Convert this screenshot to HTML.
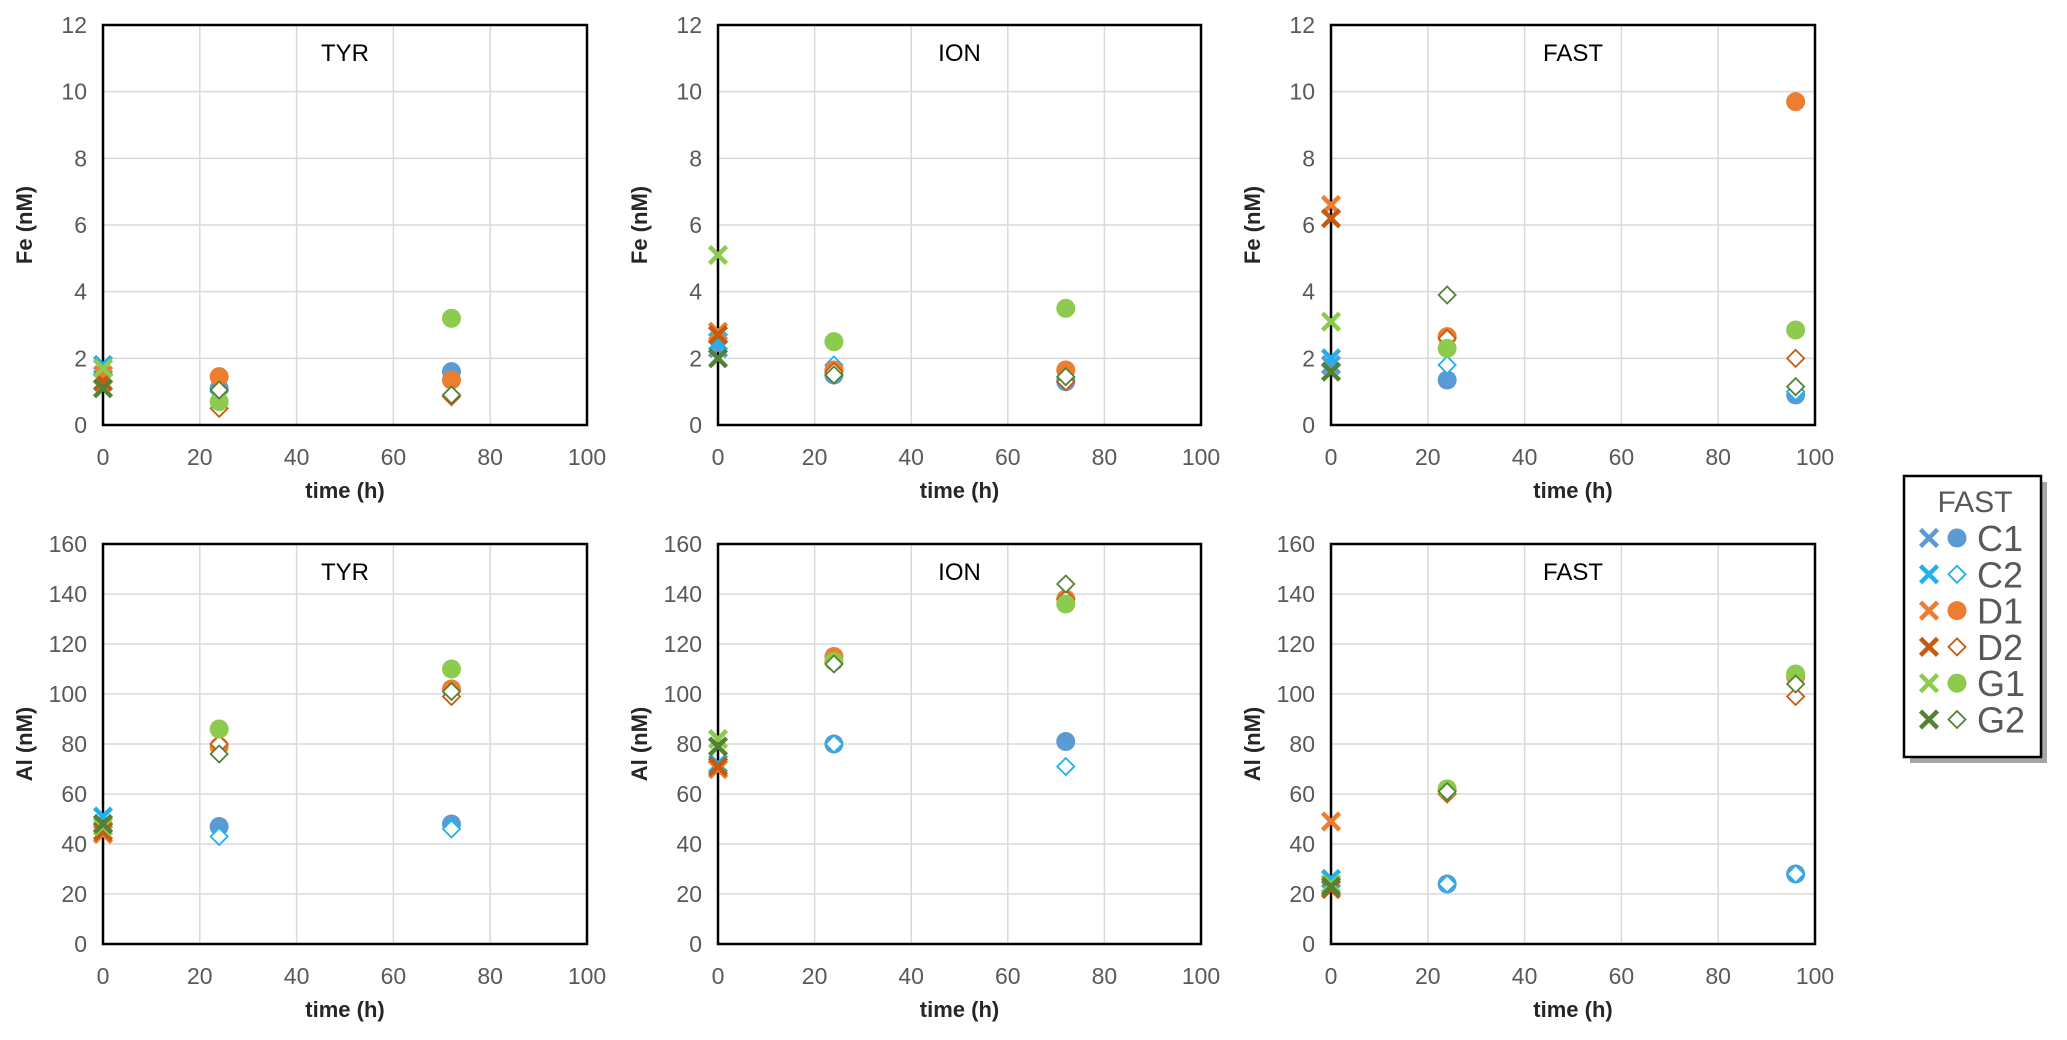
<!DOCTYPE html>
<html><head><meta charset="utf-8">
<style>
html,body{margin:0;padding:0;background:#fff;}
svg{display:block;font-family:"Liberation Sans",Arial,sans-serif;}
</style></head>
<body>
<svg id="fig" width="2067" height="1040" viewBox="0 0 2067 1040" xmlns="http://www.w3.org/2000/svg"></svg>
<script>
const seriesNames = ['C1','C2','D1','D2','G1','G2'];
const seriesColors = ['#5B9BD5','#1FB0EE','#ED7D31','#C55A11','#8CCB4E','#548235'];
const laterShape = ['circle','diamond','circle','diamond','circle','diamond'];
const panelTitles = ['TYR','ION','FAST','TYR','ION','FAST'];
const xTicks = [0,20,40,60,80,100];
const feTicks = [0,2,4,6,8,10,12];
const alTicks = [0,20,40,60,80,100,120,140,160];
const timesTYR = [0,24,72];
const timesION = [0,24,72];
const timesFAST = [0,24,96];
// values: [series][timeIndex]
const feTYR = [[1.3,1.1,1.6],[1.8,1.0,0.9],[1.5,1.45,1.35],[1.3,0.5,0.85],[1.7,0.7,3.2],[1.1,1.05,0.9]];
const feION = [[2.3,1.5,1.3],[2.5,1.8,1.4],[2.8,1.65,1.65],[2.7,1.6,1.3],[5.1,2.5,3.5],[2.0,1.5,1.45]];
const feFAST = [[1.8,1.35,0.9],[2.0,1.8,1.0],[6.6,2.65,9.7],[6.2,2.6,2.0],[3.1,2.3,2.85],[1.6,3.9,1.15]];
const alTYR = [[48,47,48],[51,43,46],[44,79,102],[45,80,99],[47,86,110],[48,76,101]];
const alION = [[70,80,81],[72,80,71],[70,115,138],[71,113,138],[82,113,136],[79,112,144]];
const alFAST = [[24,24,28],[26,24,28],[49,62,107],[22,60,99],[24,62,108],[23,61,104]];

const NS='http://www.w3.org/2000/svg';
const svg=document.getElementById('fig');
function mk(tag,attrs,parent){const e=document.createElementNS(NS,tag);for(const k in attrs)e.setAttribute(k,attrs[k]);(parent||svg).appendChild(e);return e;}

const cols=[[103,587],[718,1201],[1331,1815]];
const rows=[[25,425],[544,944]];
const panels=[
 {c:0,r:0,t:timesTYR,v:feTYR,ticks:feTicks,ymax:12,yl:'Fe (nM)'},
 {c:1,r:0,t:timesION,v:feION,ticks:feTicks,ymax:12,yl:'Fe (nM)'},
 {c:2,r:0,t:timesFAST,v:feFAST,ticks:feTicks,ymax:12,yl:'Fe (nM)'},
 {c:0,r:1,t:timesTYR,v:alTYR,ticks:alTicks,ymax:160,yl:'Al (nM)'},
 {c:1,r:1,t:timesION,v:alION,ticks:alTicks,ymax:160,yl:'Al (nM)'},
 {c:2,r:1,t:timesFAST,v:alFAST,ticks:alTicks,ymax:160,yl:'Al (nM)'}];

function drawMarker(g,shape,cx,cy,color){
  let m;
  if(shape==='cross'){
    const s=8.5;
    m=mk('path',{d:`M${cx-s},${cy-s}L${cx+s},${cy+s}M${cx-s},${cy+s}L${cx+s},${cy-s}`,stroke:color,'stroke-width':4.5,fill:'none'},g);
  }else if(shape==='circle'){
    m=mk('circle',{cx:cx,cy:cy,r:9.5,fill:color},g);
  }else{
    const s=8.5;
    m=mk('path',{d:`M${cx},${cy-s}L${cx+s},${cy}L${cx},${cy+s}L${cx-s},${cy}Z`,stroke:color,'stroke-width':1.8,fill:'#fff'},g);
  }
  return m;
}

panels.forEach((p,pi)=>{
  const [x0,x1]=cols[p.c],[y0,y1]=rows[p.r];
  const g=mk('g',{});
  
  
  const X=v=>x0+(v/100)*(x1-x0);
  const Y=v=>y1-(v/p.ymax)*(y1-y0);
  xTicks.forEach(t=>{
    if(t>0&&t<100){const l=mk('line',{x1:X(t),x2:X(t),y1:y0,y2:y1,stroke:'#d9d9d9','stroke-width':1.5},g);
    }
    const tx=mk('text',{x:X(t),y:y1+40,'text-anchor':'middle','font-size':23,fill:'#595959'},g);tx.textContent=t;
    
  });
  p.ticks.forEach(t=>{
    if(t>0&&t<p.ymax){const l=mk('line',{x1:x0,x2:x1,y1:Y(t),y2:Y(t),stroke:'#d9d9d9','stroke-width':1.5},g);
    }
    const tx=mk('text',{x:x0-16,y:Y(t)+8,'text-anchor':'end','font-size':23,fill:'#595959'},g);tx.textContent=t;
    
  });
  const b=mk('rect',{x:x0,y:y0,width:x1-x0,height:y1-y0,fill:'none',stroke:'#000','stroke-width':2.5},g);
  
  const ti=mk('text',{x:(x0+x1)/2,y:y0+36,'text-anchor':'middle','font-size':24,fill:'#000'},g);ti.textContent=panelTitles[pi];
  
  const xt=mk('text',{x:(x0+x1)/2,y:y1+73,'text-anchor':'middle','font-size':22,'font-weight':'bold',fill:'#262626'},g);xt.textContent='time (h)';
  
  const yx=x0-71,yy=(y0+y1)/2;
  const yt=mk('text',{x:yx,y:yy,'text-anchor':'middle','font-size':22,'font-weight':'bold',fill:'#262626',transform:`rotate(-90 ${yx} ${yy})`},g);yt.textContent=p.yl;
  
  p.v.forEach((vals,si)=>{
    vals.forEach((v,ti2)=>{
      const shape=ti2===0?'cross':laterShape[si];
      const m=drawMarker(g,shape,X(p.t[ti2]),Y(v),seriesColors[si]);
      
      
    });
  });
});

// legend
const lg=mk('g',{});


mk('rect',{x:1910,y:482,width:137,height:281,fill:'#a6a6a6'},lg);
const lb=mk('rect',{x:1904,y:476,width:137,height:281,fill:'#fff',stroke:'#000','stroke-width':2.5},lg);

const lt=mk('text',{x:1975,y:512,'text-anchor':'middle','font-size':30,fill:'#595959'},lg);lt.textContent='FAST';

seriesNames.forEach((n,i)=>{
  const cy=538+i*36.3;
  const e=mk('g',{},lg);
  
  
  drawMarker(e,'cross',1929,cy,seriesColors[i]);
  drawMarker(e,laterShape[i],1957,cy,seriesColors[i]);
  const t=mk('text',{x:1977,y:cy+13,'font-size':36,fill:'#595959'},e);t.textContent=n;
});
</script>
</body></html>
